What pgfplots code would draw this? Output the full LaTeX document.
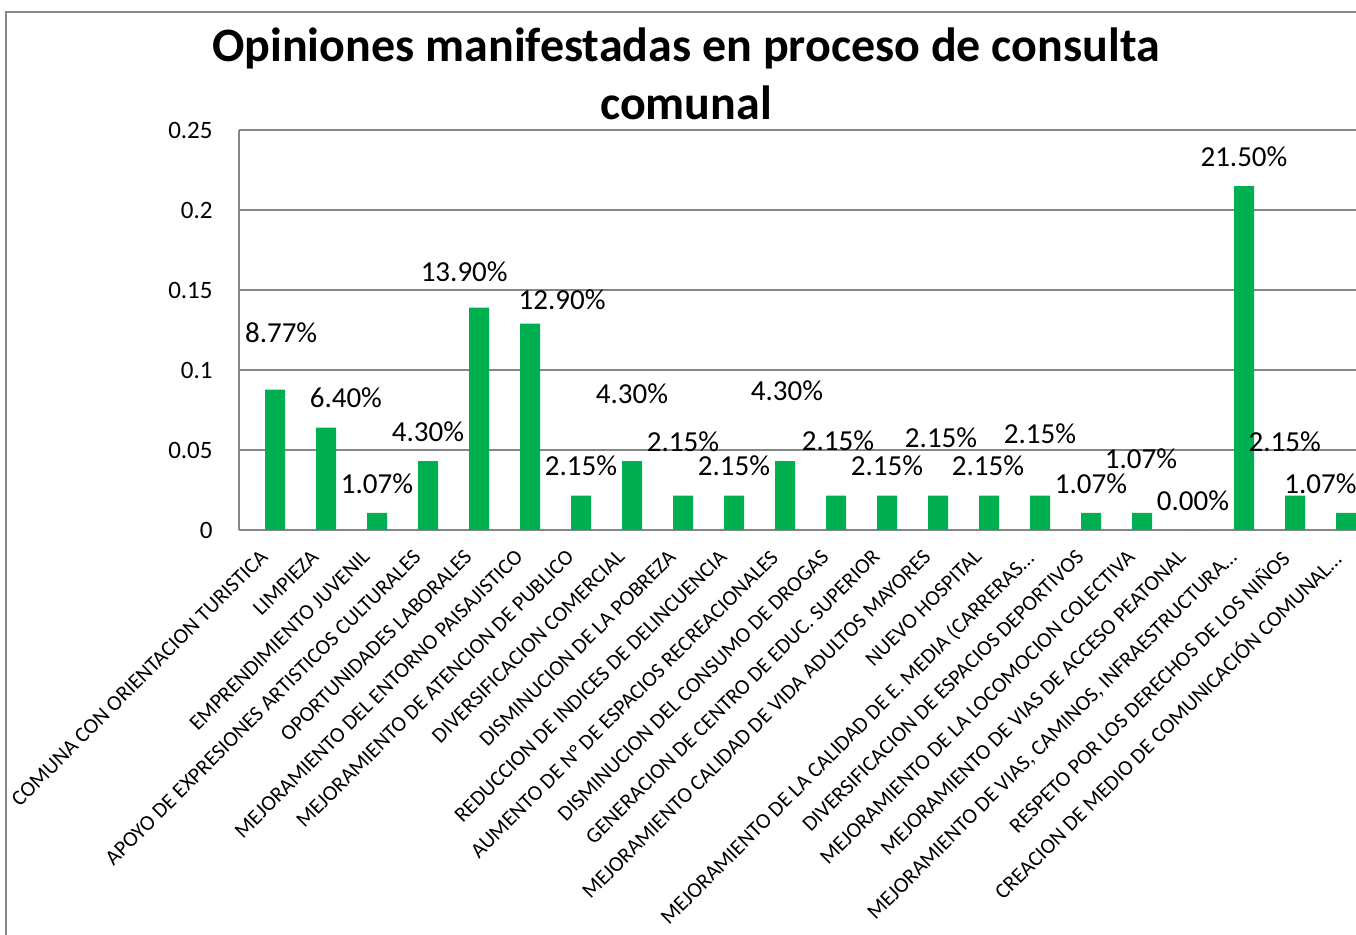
\documentclass[border=0pt]{standalone}
\usepackage{fontspec}
\setmainfont{Carlito}
\usepackage{pgfplots}
\usepackage{pgfplotstable}
\pgfplotsset{compat=1.18}
\definecolor{bargreen}{HTML}{00B050}
\definecolor{gridgray}{HTML}{868686}

% share of opinions per topic
\pgfplotstableread{
x y
0 0.0877
1 0.0640
2 0.0107
3 0.0430
4 0.1390
5 0.1290
6 0.0215
7 0.0430
8 0.0215
9 0.0215
10 0.0430
11 0.0215
12 0.0215
13 0.0215
14 0.0215
15 0.0215
16 0.0107
17 0.0107
18 0.0000
19 0.2150
20 0.0215
21 0.0107
}\bars

% data labels, where they were dragged to in the original
\pgfplotstableread{
x y lab
0.12 0.1231 8.77
1.39 0.0825 6.40
2.00 0.0288 1.07
3.00 0.0613 4.30
3.71 0.1613 13.90
5.63 0.1438 12.90
6.00 0.0400 2.15
7.00 0.0850 4.30
8.00 0.0550 2.15
9.00 0.0400 2.15
10.04 0.0869 4.30
11.04 0.0556 2.15
12.00 0.0400 2.15
13.06 0.0575 2.15
13.98 0.0400 2.15
15.00 0.0600 2.15
16.00 0.0288 1.07
16.98 0.0444 1.07
18.00 0.0181 0.00
19.00 0.2331 21.50
19.80 0.0550 2.15
20.50 0.0288 1.07
}\labels

\begin{document}
\begin{tikzpicture}
\useasboundingbox (-119.5pt,-202.5pt) rectangle (558.5pt,265pt);
\begin{axis}[
  at={(0,0)}, anchor=south west,
  scale only axis, width=558.5pt, height=200pt,
  xmin=-0.706, xmax=21.196, ymin=0, ymax=0.25,
  axis lines*=left, axis line style={gridgray, line width=0.8pt},
  ymajorgrids, grid style={gridgray, line width=0.8pt},
  major tick length=0pt,
  ytick={0,0.05,0.1,0.15,0.2,0.25},
  yticklabels={0,0.05,0.1,0.15,0.2,0.25},
  yticklabel style={font=\fontsize{12.5}{14}\selectfont, inner sep=0pt},
  yticklabel shift=13pt,
  xtick={0,...,21},
  xticklabels={COMUNA CON ORIENTACION TURISTICA, LIMPIEZA, EMPRENDIMIENTO JUVENIL,
    APOYO DE EXPRESIONES ARTISTICOS CULTURALES, OPORTUNIDADES LABORALES,
    MEJORAMIENTO DEL ENTORNO PAISAJISTICO, MEJORAMIENTO DE ATENCION DE PUBLICO,
    DIVERSIFICACION COMERCIAL, DISMINUCION DE LA POBREZA,
    REDUCCION DE INDICES DE DELINCUENCIA, AUMENTO DE N° DE ESPACIOS RECREACIONALES,
    DISMINUCION DEL CONSUMO DE DROGAS, GENERACION DE CENTRO DE EDUC. SUPERIOR,
    MEJORAMIENTO CALIDAD DE VIDA ADULTOS MAYORES, NUEVO HOSPITAL,
    MEJORAMIENTO DE LA CALIDAD DE E. MEDIA (CARRERAS…,
    DIVERSIFICACION DE ESPACIOS DEPORTIVOS, MEJORAMIENTO DE LA LOCOMOCION COLECTIVA,
    MEJORAMIENTO DE VIAS DE ACCESO PEATONAL,
    {MEJORAMIENTO DE VIAS, CAMINOS, INFRAESTRUCTURA…},
    RESPETO POR LOS DERECHOS DE LOS NIÑOS, CREACION DE MEDIO DE COMUNICACIÓN COMUNAL…},
  xticklabel style={xshift=-8pt, rotate=45, anchor=north east, inner sep=0pt, font=\fontsize{10.8}{12}\selectfont},
  xticklabel shift=9pt,
  clip=false,
]
\addplot[ybar, bar width=10pt, fill=bargreen, draw=none] table[x=x, y=y] {\bars};
\addplot[draw=none, mark=none, point meta=explicit symbolic,
  nodes near coords={\pgfplotspointmeta\%},
  every node near coord/.append style={anchor=center, inner sep=0pt, font=\fontsize{14.5}{16}\selectfont}]
  table[x=x, y=y, meta=lab] {\labels};
\end{axis}
\draw[gridgray, line width=1pt] (-116.5pt,-210pt) -- (-116.5pt,259pt) -- (570pt,259pt);
\node[anchor=base, font=\fontsize{24}{28}\bfseries\selectfont] at (223.5pt,234pt) {Opiniones manifestadas en proceso de consulta};
\node[anchor=base, font=\fontsize{24}{28}\bfseries\selectfont] at (223.5pt,205pt) {comunal};
\end{tikzpicture}
\end{document}
